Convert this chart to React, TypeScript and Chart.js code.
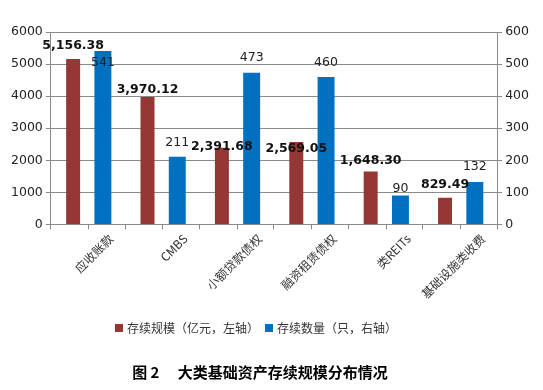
import React, { useEffect, useRef } from 'react';
import { Chart, registerables } from 'chart.js';

Chart.register(...registerables);

const categories = ['应收账款', 'CMBS', '小额贷款债权', '融资租赁债权', '类REITs', '基础设施类收费'];
const scaleValues = [5156.38, 3970.12, 2391.68, 2569.05, 1648.3, 829.49];
const countValues = [541, 211, 473, 460, 90, 132];
const seriesNames = ['存续规模（亿元，左轴）', '存续数量（只，右轴）'];
const leftAxis = { min: 0, max: 6000, step: 1000 };
const rightAxis = { min: 0, max: 600, step: 100 };
const titleText = '图 2　 大类基础资产存续规模分布情况';

// vertical offsets (px) of the value labels relative to the bar tops, as placed in the original
const scaleLabelDy = [-13, -7, -1, 7, -11, -13];
const countLabelDy = [12, -14, -15, -14, -7, -15];

const RED = '#953735';
const BLUE = '#0070C0';
const GRID = '#8a8a8a';
const CJK = '"Noto Sans CJK SC", "DejaVu Sans", sans-serif';

const fmt2 = (v: number) =>
  v.toLocaleString('en-US', { minimumFractionDigits: 2, maximumFractionDigits: 2 });

const labelsPlugin = {
  id: 'valueLabels',
  afterDatasetsDraw(chart: any) {
    const ctx = chart.ctx as CanvasRenderingContext2D;
    ctx.save();
    ctx.textAlign = 'center';
    ctx.textBaseline = 'middle';
    chart.data.datasets.forEach((ds: any, di: number) => {
      const meta = chart.getDatasetMeta(di);
      meta.data.forEach((bar: any, i: number) => {
        const { x, y } = bar.getProps(['x', 'y'], true);
        if (di === 0) {
          ctx.font = 'bold 12.5px "DejaVu Sans"';
          ctx.fillStyle = '#111';
          ctx.fillText(fmt2(ds.data[i]), x, y + scaleLabelDy[i]);
        } else {
          ctx.font = '12.5px "DejaVu Sans"';
          ctx.fillStyle = '#222';
          ctx.fillText(String(ds.data[i]), x, y + countLabelDy[i]);
        }
      });
    });
    ctx.restore();
  },
};

const extrasPlugin = {
  id: 'extras',
  afterDraw(chart: any) {
    const ctx = chart.ctx as CanvasRenderingContext2D;
    const xs = chart.scales.x;
    const area = chart.chartArea;
    ctx.save();
    // centre tick marks on the category axis
    ctx.strokeStyle = GRID;
    ctx.lineWidth = 1;
    for (let i = 0; i < categories.length; i++) {
      const px = Math.round(xs.getPixelForValue(i)) + 0.5;
      ctx.beginPath();
      ctx.moveTo(px, area.bottom);
      ctx.lineTo(px, area.bottom + 5);
      ctx.stroke();
    }
    // legend
    ctx.font = '12px ' + CJK;
    ctx.textBaseline = 'middle';
    ctx.textAlign = 'left';
    const ly = 328;
    const w0 = ctx.measureText(seriesNames[0]).width;
    const w1 = ctx.measureText(seriesNames[1]).width;
    const box = 8;
    const gapBox = 4;
    const gapItem = 6;
    const total = box + gapBox + w0 + gapItem + box + gapBox + w1;
    let lx = 256 - total / 2;
    ctx.fillStyle = RED;
    ctx.fillRect(lx, ly - box / 2, box, box);
    ctx.fillStyle = '#333';
    ctx.fillText(seriesNames[0], lx + box + gapBox, ly);
    lx += box + gapBox + w0 + gapItem;
    ctx.fillStyle = BLUE;
    ctx.fillRect(lx, ly - box / 2, box, box);
    ctx.fillStyle = '#333';
    ctx.fillText(seriesNames[1], lx + box + gapBox, ly);
    // caption
    ctx.font = 'bold 15px ' + CJK;
    ctx.fillStyle = '#000';
    ctx.textAlign = 'center';
    ctx.fillText(titleText, 260, 372);
    ctx.restore();
  },
};

export default function App() {
  const ref = useRef<HTMLCanvasElement | null>(null);
  useEffect(() => {
    if (!ref.current) return;
    const chart = new Chart(ref.current, {
      type: 'bar',
      data: {
        labels: categories,
        datasets: [
          {
            label: seriesNames[0],
            data: scaleValues,
            backgroundColor: RED,
            yAxisID: 'y',
            barPercentage: 0.47,
            categoryPercentage: 0.8,
          },
          {
            label: seriesNames[1],
            data: countValues,
            backgroundColor: BLUE,
            yAxisID: 'y1',
            barPercentage: 0.57,
            categoryPercentage: 0.8,
          },
        ],
      },
      options: {
        responsive: false,
        animation: false,
        layout: { padding: { left: 8, right: 11, top: 32, bottom: 87 } },
        plugins: {
          legend: { display: false },
          title: { display: false },
          tooltip: { enabled: false },
        },
        scales: {
          x: {
            offset: true,
            grid: {
              display: true,
              drawOnChartArea: false,
              offset: true,
              tickLength: 5,
              color: GRID,
            },
            border: { display: true, color: GRID },
            ticks: {
              minRotation: 45,
              maxRotation: 45,
              autoSkip: false,
              labelOffset: 23,
              padding: 2,
              color: '#333',
              font: { family: CJK, size: 12 },
            },
          },
          y: {
            position: 'left',
            min: leftAxis.min,
            max: leftAxis.max,
            ticks: {
              stepSize: leftAxis.step,
              padding: 3,
              color: '#222',
              font: { family: 'DejaVu Sans', size: 12.5 },
              callback: (v: any) => String(v),
            },
            grid: { color: GRID, tickLength: 5 },
            border: { display: true, color: GRID },
          },
          y1: {
            position: 'right',
            min: rightAxis.min,
            max: rightAxis.max,
            ticks: {
              stepSize: rightAxis.step,
              padding: 3,
              color: '#222',
              font: { family: 'DejaVu Sans', size: 12.5 },
              callback: (v: any) => String(v),
            },
            grid: { drawOnChartArea: false, color: GRID, tickLength: 5 },
            border: { display: true, color: GRID },
          },
        },
      },
      plugins: [labelsPlugin, extrasPlugin],
    });
    return () => chart.destroy();
  }, []);
  return (
    <div style={{ position: 'absolute', left: 0, top: 0, width: 543, height: 390, background: '#fff' }}>
      <canvas ref={ref} width={543} height={390} />
    </div>
  );
}
